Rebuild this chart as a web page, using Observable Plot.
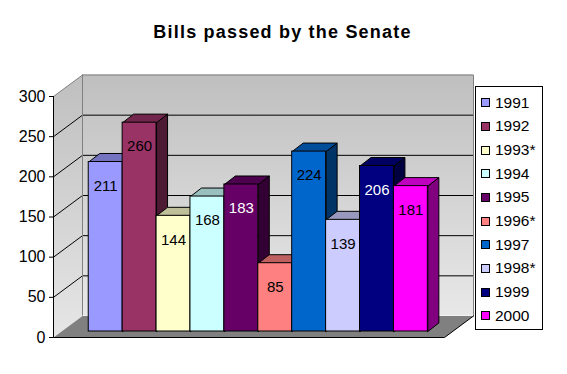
<!DOCTYPE html>
<html><head><meta charset="utf-8">
<script src="https://cdn.jsdelivr.net/npm/d3@7"></script>
<script src="https://cdn.jsdelivr.net/npm/@observablehq/plot@0.6"></script>
<style>
body{margin:0;background:#fff;font-family:Arial,"Liberation Sans",sans-serif;}
#wrap{position:relative;width:567px;height:374px;overflow:hidden;}
#chart{position:absolute;left:0;top:0;}
#title{position:absolute;left:-1px;width:567px;top:22px;text-align:center;font-weight:bold;font-size:18px;line-height:20px;letter-spacing:1.2px;color:#000;}
#legend{position:absolute;left:475px;top:86px;width:68px;height:244px;border:1px solid #000;box-sizing:border-box;background:#fff;padding-top:4px;}
.item{height:23.67px;display:flex;align-items:center;font-size:15.5px;color:#000;}
.sw{width:9px;height:9px;box-sizing:border-box;border:1px solid #000;margin-left:5px;margin-right:5px;flex:none;}
</style></head>
<body><div id="wrap"><div id="chart"></div><div id="title">Bills passed by the Senate</div><div id="legend"></div></div>
<script>
// ---- data ----
const years = ["1991","1992","1993*","1994","1995","1996*","1997","1998*","1999","2000"];
const bills = [211, 260, 144, 168, 183, 85, 224, 139, 206, 181];
const colors = ["#9999FF","#993366","#FFFFCC","#CCFFFF","#660066","#FF8080","#0066CC","#CCCCFF","#000080","#FF00FF"];
const labelColors = ["#000","#000","#000","#000","#fff","#000","#000","#000","#fff","#000"];
const yTicks = [0, 50, 100, 150, 200, 250, 300];

// ---- layout (3-D projection offsets, in pixels converted to data units) ----
const X0 = -0.8, X1 = 10.73, YMAX = 300;
const padL = 53, padR = 444, padB = 337, padT = 96;
const pxX = (X1 - X0) / (padR - padL), pxY = YMAX / (padB - padT);
const wall = {x: 29 * pxX, y: 21.5 * pxY};
const front = {x: 8.1 * pxX, y: 6 * pxY};
const depth = {x: 11 * pxX, y: 8.5 * pxY};

const shade = (c, k) => { const r = d3.rgb(c); return d3.rgb(r.r * k, r.g * k, r.b * k).formatHex(); };
const bars = years.map((year, i) => ({year, i, value: bills[i], color: colors[i],
  topc: shade(colors[i], 0.75), side: shade(colors[i], 0.5), label: labelColors[i]}));

const poly = (pts, i, fill) => pts.concat([pts[0]]).map(([x, y]) => ({x, y, i, fill}));
const sidePts = bars.flatMap(b => {
  const xa = b.i + 1 + front.x, y0 = front.y, y1 = b.value + front.y;
  return poly([[xa, y0], [xa, y1], [xa + depth.x, y1 + depth.y], [xa + depth.x, y0 + depth.y]], b.i, b.side);
});
const topPts = bars.flatMap(b => {
  const xa = b.i + front.x, xb = b.i + 1 + front.x, y1 = b.value + front.y;
  return poly([[xa, y1], [xb, y1], [xb + depth.x, y1 + depth.y], [xa + depth.x, y1 + depth.y]], b.i, b.topc);
});
const inner = yTicks.filter(t => t > 0 && t < YMAX);

const plot = Plot.plot({
  width: 567, height: 374,
  marginLeft: padL, marginRight: 567 - padR, marginTop: padT, marginBottom: 374 - padB,
  x: {domain: [X0, X1], axis: null},
  y: {domain: [0, YMAX], axis: null},
  color: {type: "identity"},
  style: {fontFamily: "Arial, 'Liberation Sans', sans-serif", background: "transparent", overflow: "visible"},
  marks: [
    Plot.line(poly([[X0, 0], [X0, YMAX], [X0 + wall.x, YMAX + wall.y], [X0 + wall.x, wall.y]], 0, ""),
      {x: "x", y: "y", fill: "url(#sideGrad)", stroke: "none"}),
    Plot.rect([0], {x1: X0 + wall.x, x2: X1 + wall.x, y1: wall.y, y2: YMAX + wall.y, fill: "url(#backGrad)"}),
    Plot.line(poly([[X0, 0], [X1, 0], [X1 + wall.x, wall.y], [X0 + wall.x, wall.y]], 0, ""),
      {x: "x", y: "y", fill: "#808080", stroke: "none"}),
    Plot.ruleY(inner, {y: d => d + wall.y, x1: X0 + wall.x, x2: X1 + wall.x, stroke: "#000", strokeWidth: 1}),
    Plot.link(inner, {x1: X0, y1: d => d, x2: X0 + wall.x, y2: d => d + wall.y, stroke: "#000", strokeWidth: 1}),
    Plot.line([[X0, YMAX], [X0 + wall.x, YMAX + wall.y], [X1 + wall.x, YMAX + wall.y], [X1 + wall.x, wall.y]],
      {stroke: "#808080", strokeWidth: 1, strokeLinejoin: "miter"}),
    Plot.ruleX([X0 + wall.x], {y1: wall.y, y2: YMAX + wall.y, stroke: "#808080", strokeWidth: 1}),
    Plot.line([[X0, 0], [X1, 0], [X1 + wall.x, wall.y]], {stroke: "#000", strokeWidth: 1}),
    Plot.line(sidePts, {x: "x", y: "y", z: "i", fill: "fill", stroke: "#000", strokeWidth: 1, strokeLinejoin: "miter"}),
    Plot.line(topPts, {x: "x", y: "y", z: "i", fill: "fill", stroke: "#000", strokeWidth: 1, strokeLinejoin: "miter"}),
    Plot.rect(bars, {x1: b => b.i + front.x, x2: b => b.i + 1 + front.x, y1: front.y, y2: b => b.value + front.y,
      fill: "color", stroke: "#000", strokeWidth: 1}),
    Plot.text(bars, {x: b => b.i + 0.5 + front.x, y: b => b.value + front.y, dy: 24,
      text: b => String(b.value), fill: "label", fontSize: 15}),
    Plot.ruleX([X0], {y1: 0, y2: YMAX, stroke: "#000", strokeWidth: 1}),
    Plot.axisY(yTicks, {label: null, tickSize: 4, tickPadding: 4, fontSize: 16, stroke: "#000", color: "#000"})
  ]
});

const defs = d3.select(plot).insert("defs", ":first-child");
const grad = (id, c0, c1) => {
  const g = defs.append("linearGradient").attr("id", id).attr("x1", 0).attr("y1", 0).attr("x2", 0).attr("y2", 1);
  g.append("stop").attr("offset", "0%").attr("stop-color", c0);
  g.append("stop").attr("offset", "100%").attr("stop-color", c1);
};
grad("backGrad", "#BFBFBF", "#E8E8E8");
grad("sideGrad", "#BFBFBF", "#E6E6E6");
document.getElementById("chart").append(plot);

const lg = document.getElementById("legend");
years.forEach((y, i) => {
  const it = document.createElement("div"); it.className = "item";
  const sw = document.createElement("span"); sw.className = "sw"; sw.style.background = colors[i];
  const t = document.createElement("span"); t.textContent = y;
  it.append(sw, t); lg.append(it);
});
</script></body></html>
